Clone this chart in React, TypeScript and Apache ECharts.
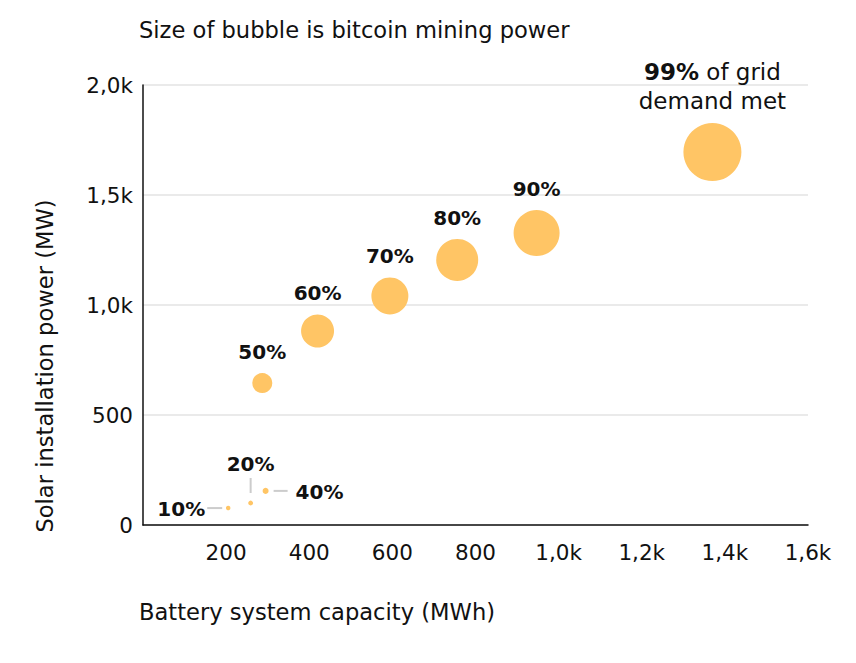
import { useEffect, useRef } from 'react';
import * as echarts from 'echarts';

// share of grid demand met, one bubble per scenario
const shareLabels = ['10%', '20%', '40%', '50%', '60%', '70%', '80%', '90%', '99%'];
// battery system capacity (MWh)
const batteryCapacity = [205, 259, 295, 287, 420, 594, 756, 947, 1370];
// solar installation power (MW)
const solarPower = [77, 100, 155, 645, 882, 1041, 1205, 1327, 1695];
// bitcoin mining power (bubble size)
const miningPower = [5, 6, 9, 100, 272, 342, 441, 529, 841];
// the three smallest bubbles get a callout instead of a label above
const calloutSides = ['left', 'top', 'right'];

const FONT = 'DejaVu Sans';
const INK = '#111111';
const TITLE_SIZE = 22.6;
const TICK_SIZE = 21.5;

const fmtK = (v: number) =>
  v >= 1000 ? (v / 1000).toFixed(1).replace('.', ',') + 'k' : String(v);

export default function App() {
  const chartRef = useRef<HTMLDivElement>(null);

  useEffect(() => {
    document.body.style.margin = '0';
    if (!chartRef.current) return;

    const chart = echarts.init(chartRef.current, null, { renderer: 'svg' });

    const last = shareLabels.length - 1;
    const bubbles = batteryCapacity.map((x, i) => ({
      value: [x, solarPower[i], miningPower[i]],
      label:
        i < calloutSides.length
          ? { show: false }
          : i === last
          ? {
              show: true,
              distance: 8,
              formatter: `{b|${shareLabels[i]}} of grid\ndemand met`,
              fontWeight: 'normal',
              fontSize: 23,
              lineHeight: 29,
              rich: { b: { fontWeight: 'bold', fontSize: 23, fontFamily: FONT, color: INK } },
            }
          : { show: true, formatter: shareLabels[i] },
    }));

    const callouts = calloutSides.map((_, i) => [batteryCapacity[i], solarPower[i]]);

    const titleStyle = { fontFamily: FONT, fontSize: TITLE_SIZE, fontWeight: 'normal', color: INK };

    const option: echarts.EChartsOption = {
      animation: false,
      textStyle: { fontFamily: FONT, color: INK },
      title: [
        { text: 'Size of bubble is bitcoin mining power', left: 139, top: 18, padding: 0, textStyle: titleStyle },
        { text: 'Battery system capacity (MWh)', left: 139, top: 600, padding: 0, textStyle: titleStyle },
      ],
      graphic: [
        {
          type: 'text',
          x: 45,
          y: 366,
          rotation: Math.PI / 2,
          style: {
            text: 'Solar installation power (MW)',
            fontFamily: FONT,
            fontSize: TITLE_SIZE,
            fill: INK,
            align: 'center',
            verticalAlign: 'middle',
          },
        },
      ],
      grid: { left: 143, right: 48, top: 85, bottom: 138 },
      xAxis: {
        type: 'value',
        min: 0,
        max: 1600,
        interval: 200,
        axisLine: { show: true, lineStyle: { color: INK, width: 1.5 } },
        axisTick: { show: false },
        splitLine: { show: false },
        axisLabel: {
          margin: 16,
          fontSize: TICK_SIZE,
          color: INK,
          fontFamily: FONT,
          formatter: (v: number) => (v === 0 ? '' : fmtK(v)),
        },
      },
      yAxis: {
        type: 'value',
        min: 0,
        max: 2000,
        interval: 500,
        axisLine: { show: true, lineStyle: { color: INK, width: 1.5 } },
        axisTick: { show: false },
        splitLine: { show: true, lineStyle: { color: '#e3e3e3', width: 1.5 } },
        axisLabel: {
          margin: 10,
          fontSize: TICK_SIZE,
          color: INK,
          fontFamily: FONT,
          formatter: (v: number) => fmtK(v),
        },
      },
      series: [
        {
          type: 'scatter',
          data: bubbles,
          symbolSize: (val: number[]) => 2 * Math.sqrt(val[2]),
          itemStyle: { color: '#ffc565', opacity: 1 },
          label: {
            position: 'top',
            distance: 11,
            fontFamily: FONT,
            fontSize: 20,
            fontWeight: 'bold',
            color: INK,
          },
          emphasis: { disabled: true },
          z: 3,
        },
        {
          type: 'custom',
          data: callouts,
          silent: true,
          z: 2,
          renderItem: (params: any, api: any) => {
            const i = params.dataIndex;
            const [px, py] = api.coord([api.value(0), api.value(1)]);
            const side = calloutSides[i];
            let shape;
            let text;
            if (side === 'left') {
              shape = { x1: px - 21, y1: py, x2: px - 6, y2: py };
              text = { x: px - 23, y: py + 1, align: 'right', verticalAlign: 'middle' };
            } else if (side === 'top') {
              shape = { x1: px, y1: py - 25, x2: px, y2: py - 10 };
              text = { x: px, y: py - 29, align: 'center', verticalAlign: 'bottom' };
            } else {
              shape = { x1: px + 8, y1: py, x2: px + 22, y2: py };
              text = { x: px + 30, y: py + 1, align: 'left', verticalAlign: 'middle' };
            }
            return {
              type: 'group',
              children: [
                { type: 'line', shape, style: { stroke: '#cccccc', lineWidth: 2 } },
                {
                  type: 'text',
                  style: {
                    ...text,
                    text: shareLabels[i],
                    fontFamily: FONT,
                    fontSize: 20,
                    fontWeight: 'bold',
                    fill: INK,
                  },
                },
              ],
            };
          },
        },
      ],
    };

    chart.setOption(option);

    const handleResize = () => chart.resize();
    window.addEventListener('resize', handleResize);

    return () => {
      window.removeEventListener('resize', handleResize);
      chart.dispose();
    };
  }, []);

  return <div ref={chartRef} style={{ width: '856px', height: '663px' }} />;
}
